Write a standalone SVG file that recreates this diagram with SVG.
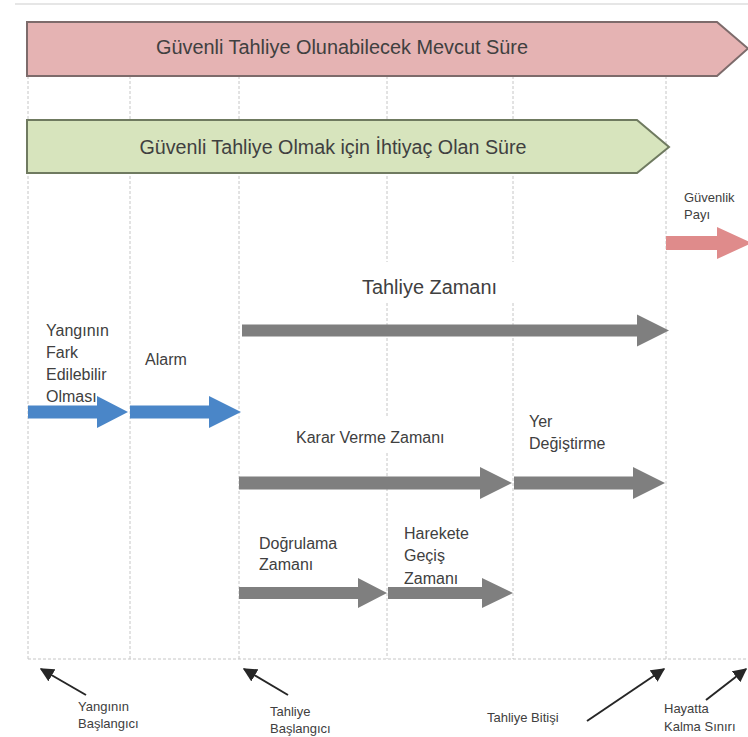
<svg xmlns="http://www.w3.org/2000/svg" width="748" height="737" viewBox="0 0 748 737">
<defs>
<style>
.grid{stroke:#c6c6c6;stroke-width:1;stroke-dasharray:3 2;fill:none}
.t{font-family:"Liberation Sans",Arial,sans-serif;fill:#404040}
.big{font-size:19.5px}
.mid{font-size:16px}
.sm{font-size:13px}
.gray{fill:#7f7f7f}
.blue{fill:#4a86c8}
.ptr{stroke:#262626;stroke-width:2;fill:none;marker-end:url(#ah)}
</style>
<marker id="ah" viewBox="0 0 10 10" refX="9" refY="5" markerWidth="7" markerHeight="7" orient="auto" markerUnits="strokeWidth">
<path d="M0,0 L10,5 L0,10 Z" fill="#262626"/>
</marker>
</defs>
<rect width="748" height="737" fill="#ffffff"/>
<line x1="15" y1="4" x2="748" y2="4" stroke="#e6e6e6" stroke-width="2"/>
<g id="grid">
<line class="grid" x1="28" y1="76" x2="28" y2="659"/>
<line class="grid" x1="130" y1="76" x2="130" y2="659"/>
<line class="grid" x1="239" y1="76" x2="239" y2="659"/>
<line class="grid" x1="387" y1="76" x2="387" y2="262"/>
<line class="grid" x1="387" y1="303" x2="387" y2="418"/>
<line class="grid" x1="387" y1="453" x2="387" y2="659"/>
<line class="grid" x1="513" y1="76" x2="513" y2="262"/>
<line class="grid" x1="513" y1="303" x2="513" y2="659"/>
<line class="grid" x1="666" y1="76" x2="666" y2="659"/>
<line class="grid" x1="28" y1="659" x2="748" y2="659"/>
</g>
<g id="mevcut-sure">
<path d="M27,22 L717,22 L748,48.5 L717,76 L27,76 Z" fill="#e5b3b3" stroke="#7d6b6b" stroke-width="2"/>
<text class="t big" x="342" y="54" text-anchor="middle" textLength="372" lengthAdjust="spacingAndGlyphs">Güvenli Tahliye Olunabilecek Mevcut Süre</text>
</g>
<g id="ihtiyac-sure">
<path d="M27,120 L637,120 L669,147 L637,173 L27,173 Z" fill="#d7e4bd" stroke="#6f7a60" stroke-width="2"/>
<text class="t big" x="333" y="154" text-anchor="middle" textLength="387" lengthAdjust="spacingAndGlyphs">Güvenli Tahliye Olmak için İhtiyaç Olan Süre</text>
</g>
<g id="guvenlik-payi">
<text class="t sm" x="684" y="202">Güvenlik</text>
<text class="t sm" x="684" y="219">Payı</text>
<path d="M666,236 L717,236 L717,227 L752,243 L717,259 L717,250 L666,250 Z" fill="#df8b8b"/>
</g>
<g id="tahliye-zamani">
<text class="t big" x="362" y="294" textLength="135" lengthAdjust="spacingAndGlyphs">Tahliye Zamanı</text>
<path class="gray" d="M242,324.5 L637,324.5 L637,314.5 L669,330.5 L637,346.5 L637,336.5 L242,336.5 Z"/>
</g>
<g id="fark-edilebilir">
<text class="t mid" x="46" y="336">Yangının</text>
<text class="t mid" x="46" y="358">Fark</text>
<text class="t mid" x="46" y="380">Edilebilir</text>
<text class="t mid" x="46" y="402">Olması</text>
<path class="blue" d="M28,405.5 L97,405.5 L97,396 L128,412 L97,428 L97,418.5 L28,418.5 Z"/>
</g>
<g id="alarm">
<text class="t mid" x="145" y="365">Alarm</text>
<path class="blue" d="M130,405.5 L209,405.5 L209,396 L241,412 L209,428 L209,418.5 L130,418.5 Z"/>
</g>
<g id="karar-verme">
<text class="t mid" x="296" y="443">Karar Verme Zamanı</text>
<path class="gray" d="M239,476.5 L480,476.5 L480,467 L512,483 L480,499 L480,489.5 L239,489.5 Z"/>
</g>
<g id="yer-degistirme">
<text class="t mid" x="529" y="427">Yer</text>
<text class="t mid" x="529" y="449">Değiştirme</text>
<path class="gray" d="M514,476.5 L633,476.5 L633,467 L665,483 L633,499 L633,489.5 L514,489.5 Z"/>
</g>
<g id="dogrulama">
<text class="t mid" x="259" y="549">Doğrulama</text>
<text class="t mid" x="259" y="570">Zamanı</text>
<path class="gray" d="M239,587 L358,587 L358,578 L387,593 L358,608 L358,599 L239,599 Z"/>
</g>
<g id="harekete-gecis">
<text class="t mid" x="404" y="539">Harekete</text>
<text class="t mid" x="404" y="561">Geçiş</text>
<text class="t mid" x="404" y="584">Zamanı</text>
<path class="gray" d="M388,587 L482,587 L482,578 L513,593 L482,608 L482,599 L388,599 Z"/>
</g>
<g id="yangin-baslangici">
<text class="t sm" x="78" y="711">Yangının</text>
<text class="t sm" x="78" y="728">Başlangıcı</text>
</g>
<g id="tahliye-baslangici">
<text class="t sm" x="270" y="716">Tahliye</text>
<text class="t sm" x="270" y="733">Başlangıcı</text>
</g>
<g id="tahliye-bitisi">
<text class="t sm" x="487" y="722">Tahliye Bitişi</text>
</g>
<g id="hayatta-kalma">
<text class="t sm" x="664" y="713">Hayatta</text>
<text class="t sm" x="664" y="731">Kalma Sınırı</text>
</g>
<g id="connectors">
<line class="ptr" x1="86" y1="695" x2="41" y2="669"/>
<line class="ptr" x1="288" y1="695" x2="244" y2="669"/>
<line class="ptr" x1="587" y1="721" x2="664" y2="669"/>
<line class="ptr" x1="706" y1="700" x2="746" y2="669"/>
</g>
</svg>
